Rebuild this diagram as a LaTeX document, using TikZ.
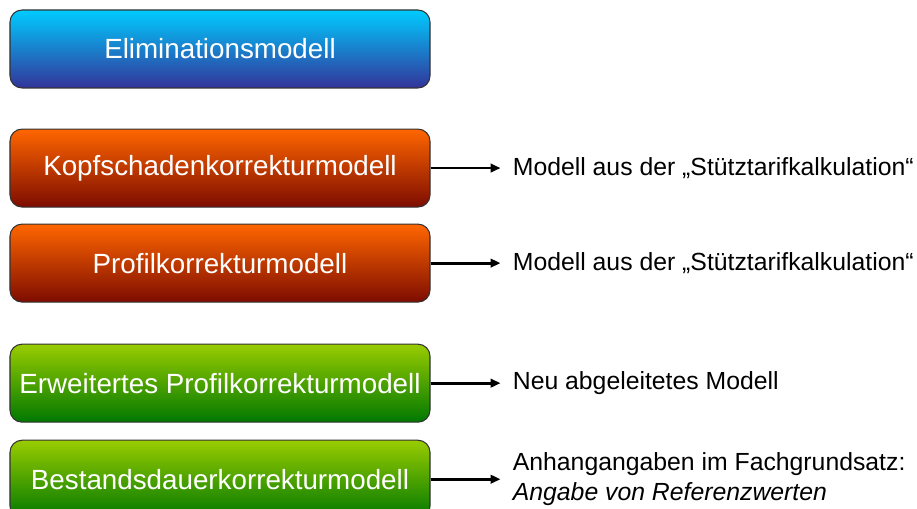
\documentclass[tikz,border=0pt]{standalone}
\usepackage{fontspec}
\setmainfont{Liberation Sans}
\usetikzlibrary{arrows.meta,positioning}
\definecolor{elimTop}{RGB}{0,204,255}
\definecolor{elimMid}{RGB}{25,165,225}
\definecolor{elimBot}{RGB}{51,51,153}
\definecolor{stuetzTop}{RGB}{255,102,0}
\definecolor{stuetzMid}{RGB}{215,78,0}
\definecolor{stuetzBot}{RGB}{125,12,0}
\definecolor{neuTop}{RGB}{153,204,0}
\definecolor{neuMid}{RGB}{95,165,0}
\definecolor{neuBot}{RGB}{0,120,0}

\begin{document}
\begin{tikzpicture}[
    modell/.style={draw=black!80, line width=0.6pt, rounded corners=0.24cm,
      minimum width=8.4cm, minimum height=1.56cm, inner sep=0pt,
      text=white, font=\fontsize{15.8}{19}\selectfont},
    blau/.style={modell, top color=elimTop, middle color=elimMid, bottom color=elimBot},
    orange/.style={modell, top color=stuetzTop, middle color=stuetzMid, bottom color=stuetzBot},
    gruen/.style={modell, top color=neuTop, middle color=neuMid, bottom color=neuBot},
    info/.style={inner sep=0.24cm, align=left, font=\fontsize{14.1}{17}\selectfont},
    pfeil/.style={line width=1.6pt, -{Triangle[length=0.2cm, width=0.17cm]}}
  ]
    \useasboundingbox (0, 0) rectangle (18.34, 10.16);
    % Modelle
    \node[blau] (elim) at (4.4, 9.18) {Eliminationsmodell};
    \node[orange, below=0.8cm of elim] (kopf) {Kopfschadenkorrekturmodell};
    \node[orange, below=0.32cm of kopf] (profil) {Profilkorrekturmodell};
    \node[gruen, below=0.82cm of profil] (erwprofil) {Erweitertes Profilkorrekturmodell};
    \node[gruen, below=0.34cm of erwprofil] (bestand) {Bestandsdauerkorrekturmodell};
    % Herkunft der Modelle
    \node[info, right=1.4cm of kopf] (kopfinfo) {Modell aus der „Stütztarifkalkulation“};
    \node[info, right=1.4cm of profil] (profilinfo) {Modell aus der „Stütztarifkalkulation“};
    \node[info, right=1.4cm of erwprofil] (erwinfo) {Neu abgeleitetes Modell};
    \node[info, right=1.4cm of bestand] (bestandinfo) {Anhangangaben im Fachgrundsatz:\\ \textit{Angabe von Referenzwerten}};
    \draw[pfeil] (kopf) -- (kopfinfo);
    \draw[pfeil] (profil) -- (profilinfo);
    \draw[pfeil] (erwprofil) -- (erwinfo);
    \draw[pfeil] (bestand) -- (bestandinfo);
  \end{tikzpicture}
\end{document}
